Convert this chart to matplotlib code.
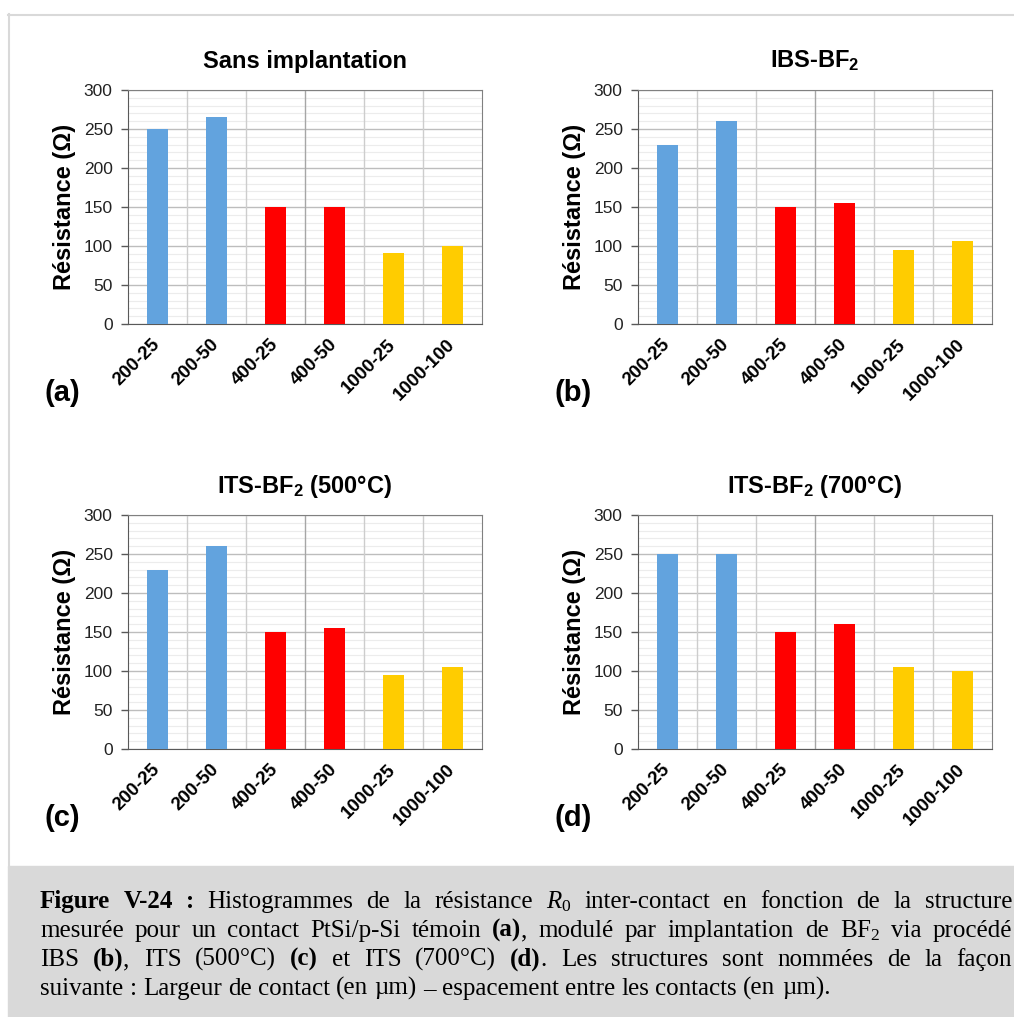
"""Histogrammes de la résistance R0 inter-contact (figure V-24, 4 panneaux)."""

import numpy as np
import matplotlib
matplotlib.use("Agg")
import matplotlib.pyplot as plt
from matplotlib.patches import Rectangle
from matplotlib.lines import Line2D

plt.rcParams["font.family"] = ["Liberation Sans", "DejaVu Sans"]
plt.rcParams["mathtext.fontset"] = "custom"
plt.rcParams["mathtext.rm"] = "Liberation Serif"
plt.rcParams["mathtext.it"] = "Liberation Serif:italic"
plt.rcParams["mathtext.bf"] = "Liberation Sans:bold"

# ---- data ----
categories = ["200-25", "200-50", "400-25", "400-50", "1000-25", "1000-100"]
bar_colors = ["#62A3DE", "#62A3DE", "#FF0000", "#FF0000", "#FFCC00", "#FFCC00"]

r_sans = [250, 265, 150, 150, 91, 100]
r_ibs = [230, 260, 150, 155, 95, 106]
r_its500 = [230, 260, 150, 155, 95, 105]
r_its700 = [250, 250, 150, 160, 105, 100]

titles = ["Sans implantation", r"IBS-BF$_\mathbf{2}$",
          r"ITS-BF$_\mathbf{2}$ (500°C)", r"ITS-BF$_\mathbf{2}$ (700°C)"]
panel_tags = ["(a)", "(b)", "(c)", "(d)"]

# caption: lines -> words -> (segment, weight)
caption = [
    [[("Figure", "bold")], [("V-24", "bold")], [(":", "bold")],
     [("Histogrammes", "normal")], [("de", "normal")], [("la", "normal")],
     [("résistance", "normal")], [(r"$R_0$", "normal")],
     [("inter-contact", "normal")], [("en", "normal")], [("fonction", "normal")],
     [("de", "normal")], [("la", "normal")], [("structure", "normal")]],
    [[("mesurée", "normal")], [("pour", "normal")], [("un", "normal")],
     [("contact", "normal")], [("PtSi/p-Si", "normal")], [("témoin", "normal")],
     [("(a)", "bold"), (",", "normal")], [("modulé", "normal")], [("par", "normal")],
     [("implantation", "normal")], [("de", "normal")], [(r"BF$_2$", "normal")],
     [("via", "normal")], [("procédé", "normal")]],
    [[("IBS", "normal")], [("(b)", "bold"), (",", "normal")], [("ITS", "normal")],
     [("(500°C)", "normal")], [("(c)", "bold")], [("et", "normal")],
     [("ITS", "normal")], [("(700°C)", "normal")], [("(d)", "bold"), (".", "normal")],
     [("Les", "normal")], [("structures", "normal")], [("sont", "normal")],
     [("nommées", "normal")], [("de", "normal")], [("la", "normal")],
     [("façon", "normal")]],
    [[("suivante", "normal")], [(":", "normal")], [("Largeur", "normal")],
     [("de", "normal")], [("contact", "normal")], [("(en", "normal")],
     [("µm)", "normal")], [("–", "normal")], [("espacement", "normal")],
     [("entre", "normal")], [("les", "normal")], [("contacts", "normal")],
     [("(en", "normal")], [("µm).", "normal")]],
]

W, H = 1014, 1017
fig = plt.figure(figsize=(W / 100, H / 100), dpi=100)

# page frame + caption box
fig.add_artist(Line2D([8 / W, 1], [1 - 14.5 / H, 1 - 14.5 / H], color="#d9d9d9",
                      lw=1.5, transform=fig.transFigure))
fig.add_artist(Line2D([8.5 / W, 8.5 / W], [1 - 14 / H, 1 - 866 / H], color="#d9d9d9",
                      lw=1.5, transform=fig.transFigure))
fig.add_artist(Rectangle((8 / W, 0), 1 - 8 / W, 1 - 866 / H, color="#d9d9d9",
                         transform=fig.transFigure, zorder=0))

# axes boxes in pixels (left, top)
boxes = [(128, 90), (638, 90), (128, 515), (638, 515)]
aw, ah = 354, 234
series = [r_sans, r_ibs, r_its500, r_its700]

x = np.arange(len(categories))
for (left, top), vals, title, tag in zip(boxes, series, titles, panel_tags):
    ax = fig.add_axes([left / W, 1 - (top + ah) / H, aw / W, ah / H])
    ax.bar(x, vals, width=0.34, color=bar_colors, zorder=3)
    ax.set_xlim(-0.5, len(categories) - 0.5)
    ax.set_ylim(0, 300)
    ax.set_yticks(np.arange(0, 301, 50))
    ax.set_yticks(np.arange(0, 301, 10), minor=True)
    ax.grid(which="minor", axis="y", color="#ececec", lw=0.8)
    ax.grid(which="major", axis="y", color="#bdbdbd", lw=1.0)
    for b in x[:-1] + 0.5:
        c = "#a6a6a6" if b == 2.5 else "#cdcdcd"
        ax.axvline(b, color=c, lw=1.0, zorder=2)
    ax.set_xticks(x)
    ax.set_xticklabels(categories, rotation=45, ha="right", va="center",
                       rotation_mode="anchor", fontsize=13.5, fontweight="bold")
    ax.tick_params(axis="x", length=0, pad=13)
    ax.tick_params(axis="y", which="major", length=5, width=1, color="#595959",
                   labelsize=12.5, pad=6, labelcolor="#222222")
    ax.tick_params(axis="y", which="minor", length=0)
    for side in ["top", "right"]:
        ax.spines[side].set_color("#808080")
    for side in ["left", "bottom"]:
        ax.spines[side].set_color("#595959")
    ax.set_ylabel("Résistance (Ω)", fontsize=17, fontweight="bold", va="center")
    ax.yaxis.set_label_coords(-0.178, 0.5)
    ax.set_title(title, fontsize=17, fontweight="bold", pad=16)
    fig.text((left - 83) / W, 1 - (top + 303) / H, tag, fontsize=21,
             fontweight="bold", va="center", ha="left")

# justified caption
renderer = fig.canvas.get_renderer()
cap_size = 18
x0, x1 = 40, 1012
space = 0.25 * cap_size * 100 / 72
for i, line in enumerate(caption):
    y_px = 908 + 29 * i
    items = []
    for word in line:
        segs = []
        for s, wgt in word:
            t = fig.text(0, 1 - y_px / H, s, fontsize=cap_size, fontweight=wgt,
                         family=["Liberation Serif", "DejaVu Serif"], va="baseline")
            segs.append((t, t.get_window_extent(renderer).width))
        items.append(segs)
    widths = [sum(w for _, w in segs) for segs in items]
    last = i == len(caption) - 1
    gap = space if last else (x1 - x0 - sum(widths)) / (len(items) - 1)
    xc = x0
    for segs in items:
        for t, wd in segs:
            t.set_x(xc / W)
            xc += wd
        xc += gap

fig.savefig("out.png", dpi=100, facecolor="white")
